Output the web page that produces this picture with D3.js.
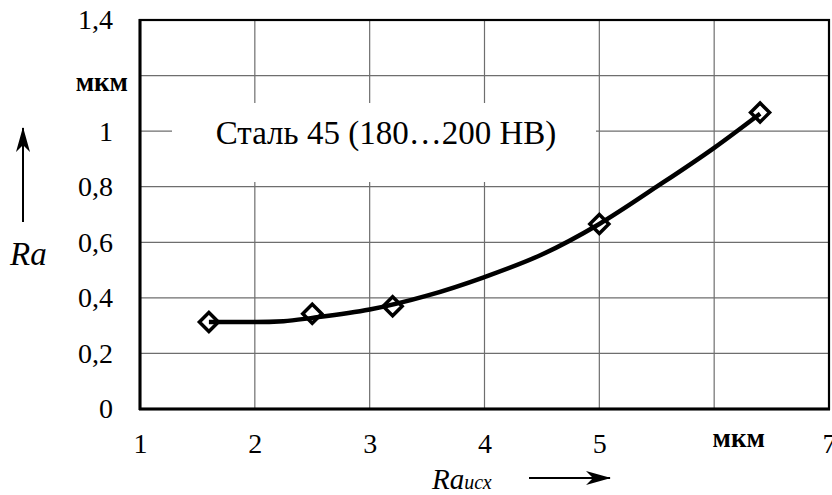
<!DOCTYPE html>
<html><head><meta charset="utf-8">
<script src="https://cdn.jsdelivr.net/npm/d3@7"></script>
<style>
html,body{margin:0;padding:0;background:#fff;}
svg{display:block;}
</style></head>
<body>
<svg id="chart" width="832" height="495"></svg>
<script>
// Data
const pointsX = [1.6, 2.5, 3.2, 5.0, 6.4];
const pointsY = [0.313, 0.343, 0.370, 0.666, 1.067];
// Trend-curve samples
const curveX = [1.6, 2.0, 2.25, 2.5, 3.0, 3.5, 4.0, 4.5, 5.0, 5.5, 6.0, 6.4];
const curveY = [0.313, 0.313, 0.316, 0.328, 0.358, 0.408, 0.475, 0.556, 0.666, 0.80, 0.94, 1.063];
const xTickValues = [1, 2, 3, 4, 5, 6, 7];
const xTickLabels = ["1", "2", "3", "4", "5", "мкм", "7"];
const yTickValues = [0, 0.2, 0.4, 0.6, 0.8, 1.0, 1.2, 1.4];
const yTickLabels = ["0", "0,2", "0,4", "0,6", "0,8", "1", "мкм", "1,4"];
const annotation = "Сталь 45 (180…200 HB)";

const svg = d3.select("#chart");
const L = 140, R = 829, T = 20, B = 409;
const x = d3.scaleLinear().domain([1, 7]).range([L, R]);
const y = d3.scaleLinear().domain([0, 1.4]).range([B, T]);
const serif = '"Liberation Serif"';

// grid
const grid = svg.append("g");
grid.selectAll("line.v").data(xTickValues.slice(1, -1)).join("line")
  .attr("x1", d => x(d)).attr("x2", d => x(d)).attr("y1", T).attr("y2", B)
  .attr("stroke", "#6e6e6e").attr("stroke-width", 1.2);
grid.selectAll("line.h").data(yTickValues.slice(1, -1)).join("line")
  .attr("x1", L).attr("x2", R).attr("y1", d => y(d)).attr("y2", d => y(d))
  .attr("stroke", "#6e6e6e").attr("stroke-width", 1.2);

// white box behind annotation
svg.append("rect").attr("x", 172).attr("y", 103).attr("width", 596 - 172).attr("height", 182 - 103)
  .attr("fill", "#fff");
svg.append("text").attr("x", 386).attr("y", 144).attr("text-anchor", "middle")
  .style("font-family", serif).style("font-size", "33px").attr("fill", "#000").text(annotation);

// frame
svg.append("rect").attr("x", L).attr("y", T).attr("width", R - L).attr("height", B - T)
  .attr("fill", "none").attr("stroke", "#000").attr("stroke-width", 2.2);
svg.append("line").attr("x1", L - 1).attr("x2", R + 1).attr("y1", B).attr("y2", B)
  .attr("stroke", "#000").attr("stroke-width", 3);
svg.append("line").attr("x1", L).attr("x2", L).attr("y1", T - 1).attr("y2", B + 1)
  .attr("stroke", "#000").attr("stroke-width", 3);

// axes (labels only)
const yAxis = svg.append("g").attr("transform", `translate(${L},0)`)
  .call(d3.axisLeft(y).tickValues(yTickValues).tickSize(0).tickPadding(27)
    .tickFormat((d, i) => yTickLabels[i]));
yAxis.attr("font-family", null).attr("font-size", null);
yAxis.select(".domain").remove();
yAxis.selectAll("text").style("font-family", serif).style("font-size", "28px").attr("fill", "#000");
yAxis.selectAll("text").filter(d => d === 1.2)
  .style("font-size", "27px").style("font-weight", "bold").attr("dy", "0.55em").attr("x", -12);

const xAxis = svg.append("g").attr("transform", `translate(0,${B})`)
  .call(d3.axisBottom(x).tickValues(xTickValues).tickSize(0).tickPadding(24)
    .tickFormat((d, i) => xTickLabels[i]));
xAxis.attr("font-family", null).attr("font-size", null);
xAxis.select(".domain").remove();
xAxis.selectAll("text").style("font-family", serif).style("font-size", "28px").attr("fill", "#000");
xAxis.selectAll("text").filter(d => d === 6)
  .style("font-size", "27px").style("font-weight", "bold").attr("dx", 24).attr("dy", "0.52em");

// markers
const pts = pointsX.map((v, i) => [v, pointsY[i]]);
svg.append("g").selectAll("path").data(pts).join("path")
  .attr("transform", d => `translate(${x(d[0])},${y(d[1])})`)
  .attr("d", d3.symbol(d3.symbolDiamond2, 230)())
  .attr("fill", "#fff").attr("stroke", "#000").attr("stroke-width", 3.5)
  .attr("stroke-linejoin", "miter");

// curve
const cpts = curveX.map((v, i) => [v, curveY[i]]);
svg.append("path").datum(cpts)
  .attr("d", d3.line().x(d => x(d[0])).y(d => y(d[1])).curve(d3.curveMonotoneX))
  .attr("fill", "none").attr("stroke", "#000").attr("stroke-width", 4.5);

// axis titles with arrows
svg.append("defs").append("marker").attr("id", "ah").attr("viewBox", "0 0 25 14")
  .attr("refX", 24).attr("refY", 7).attr("markerWidth", 25).attr("markerHeight", 14)
  .attr("markerUnits", "userSpaceOnUse").attr("orient", "auto")
  .append("path").attr("d", "M0,0 L25,7 L0,14 L7,7 Z").attr("fill", "#000");
svg.append("line").attr("x1", 23).attr("x2", 23).attr("y1", 222).attr("y2", 128)
  .attr("stroke", "#000").attr("stroke-width", 2).attr("marker-end", "url(#ah)");
svg.append("line").attr("x1", 529).attr("x2", 610).attr("y1", 478).attr("y2", 478)
  .attr("stroke", "#000").attr("stroke-width", 2).attr("marker-end", "url(#ah)");

svg.append("text").attr("x", 10).attr("y", 265)
  .style("font-family", serif).style("font-style", "italic").style("font-size", "33px").attr("fill", "#000").text("Ra");
const xt = svg.append("text").attr("x", 432).attr("y", 489)
  .style("font-family", serif).style("font-style", "italic").style("font-size", "29px").attr("fill", "#000");
xt.append("tspan").text("Ra");
xt.append("tspan").style("font-size", "20px").text("исх");
</script>
</body></html>
